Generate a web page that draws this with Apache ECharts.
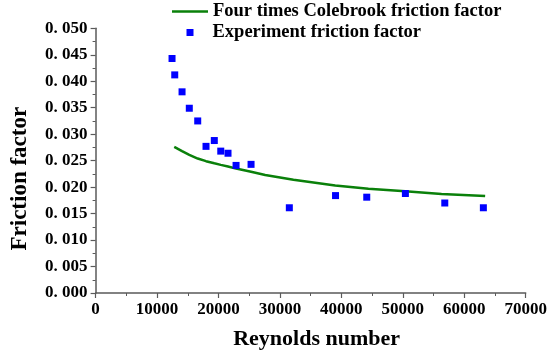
<!DOCTYPE html>
<html>
<head>
<meta charset="utf-8">
<script src="https://cdn.jsdelivr.net/npm/echarts@6/dist/echarts.min.js"></script>
<style>
  html, body { margin: 0; padding: 0; background: #ffffff; }
  #chart { width: 560px; height: 355px; }
</style>
</head>
<body>
<div id="chart"></div>
<script>
// Measured friction factor versus Reynolds number
const reynoldsExp = [12440, 12880, 14070, 15250, 16620, 17970, 19320, 20370, 21550, 22860, 25300, 31530, 39050, 44130, 50420, 56830, 63110];
const frictionExp = [0.0443, 0.0412, 0.0380, 0.0349, 0.0325, 0.0277, 0.0288, 0.0268, 0.0264, 0.0241, 0.0243, 0.0161, 0.0184, 0.0181, 0.0188, 0.0170, 0.0161];

// Four times the Colebrook (Fanning) friction factor
const reynoldsCole = [12800, 14070, 15250, 16620, 17970, 19320, 20370, 21550, 22860, 25300, 27600, 32200, 39000, 44400, 50400, 56300, 63400];
const frictionCole = [0.0276, 0.0268, 0.0261, 0.0254, 0.0249, 0.0245, 0.0242, 0.0239, 0.0235, 0.0229, 0.0223, 0.0214, 0.0203, 0.0197, 0.0192, 0.0187, 0.0183];

const seriesNames = ['Four times Colebrook friction factor', 'Experiment friction factor'];
const axisNames = ['Reynolds number', 'Friction factor'];

const zip = (xs, ys) => xs.map((x, i) => [x, ys[i]]);

const serif = "'Liberation Serif', 'DejaVu Serif', serif";
const axisColor = '#5a5a5a';
const lineGreen = '#0a800a';
const markBlue = '#0000ff';
const legendText = { fontFamily: serif, fontWeight: 'bold', fontSize: 18.5, color: '#000' };

const chart = echarts.init(document.getElementById('chart'), null, { renderer: 'canvas' });

chart.setOption({
  animation: false,
  backgroundColor: '#ffffff',
  grid: { left: 95.6, right: 34.3, top: 28.3, bottom: 58.7, containLabel: false },
  legend: [
    {
      // flat bar icon so the line entry shows no marker
      data: [{ name: seriesNames[0], icon: 'path://M0 0H36V2.6H0Z', itemStyle: { color: lineGreen } }],
      left: 172, top: 2, padding: 0,
      orient: 'vertical',
      itemWidth: 36, itemHeight: 14,
      textStyle: legendText
    },
    {
      data: [{ name: seriesNames[1], icon: 'rect', itemStyle: { color: markBlue, opacity: 1 } }],
      left: 186.5, top: 23, padding: 0,
      orient: 'vertical',
      itemWidth: 7, itemHeight: 7,
      textStyle: Object.assign({}, legendText, { padding: [0, 0, 0, 14] })
    }
  ],
  xAxis: {
    type: 'value',
    min: 0, max: 70000, interval: 10000,
    name: axisNames[0],
    nameLocation: 'middle',
    nameGap: 35,
    nameTextStyle: { fontFamily: serif, fontWeight: 'bold', fontSize: 22, color: '#000', padding: [0, 0, 0, 12] },
    axisLine: { show: true, onZero: false, lineStyle: { color: axisColor, width: 1.5 } },
    axisTick: { show: true, inside: false, length: 5, lineStyle: { color: axisColor, width: 1.2 } },
    minorTick: { show: true, splitNumber: 2, length: 3, lineStyle: { color: axisColor, width: 1 } },
    axisLabel: {
      margin: 8, fontFamily: serif, fontWeight: 'bold', fontSize: 17, color: '#000',
      formatter: v => String(v)
    },
    splitLine: { show: false }
  },
  yAxis: {
    type: 'value',
    min: 0, max: 0.05, interval: 0.005,
    name: axisNames[1],
    nameLocation: 'middle',
    nameRotate: 90,
    nameGap: 64,
    nameTextStyle: { fontFamily: serif, fontWeight: 'bold', fontSize: 23, color: '#000', padding: [0, 36, 0, 0] },
    axisLine: { show: true, onZero: false, lineStyle: { color: axisColor, width: 1.5 } },
    axisTick: { show: true, inside: false, length: 5, lineStyle: { color: axisColor, width: 1.2 } },
    minorTick: { show: true, splitNumber: 2, length: 3, lineStyle: { color: axisColor, width: 1 } },
    axisLabel: {
      margin: 8, fontFamily: serif, fontWeight: 'bold', fontSize: 17, color: '#000',
      formatter: v => v.toFixed(3).replace('.', '. ')
    },
    splitLine: { show: false }
  },
  series: [
    {
      name: seriesNames[0],
      type: 'line',
      data: zip(reynoldsCole, frictionCole),
      symbol: 'none',
      smooth: false,
      lineStyle: { color: lineGreen, width: 2.5 },
      itemStyle: { color: lineGreen },
      z: 2
    },
    {
      name: seriesNames[1],
      type: 'scatter',
      data: zip(reynoldsExp, frictionExp),
      symbol: 'rect',
      symbolSize: 7,
      itemStyle: { color: markBlue, opacity: 1 },
      z: 3
    }
  ]
});
</script>
</body>
</html>
